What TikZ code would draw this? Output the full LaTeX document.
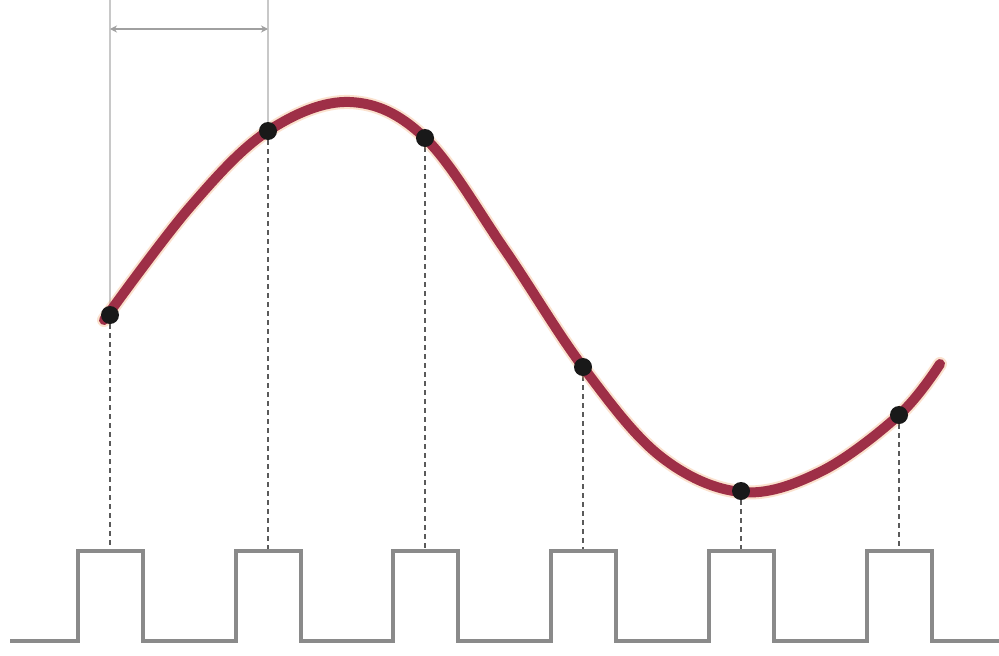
\documentclass[tikz,border=0pt]{standalone}
\usetikzlibrary{arrows.meta}
\definecolor{wave}{HTML}{9E2F47}
\definecolor{glow}{HTML}{F2A060}
\definecolor{pulse}{HTML}{8A8A8A}
\definecolor{guide}{HTML}{C8C8C8}
\definecolor{dash}{HTML}{5A5A5A}
\tikzset{
  sample/.style={circle, fill=black!90, inner sep=0pt, minimum size=18pt},
  dropline/.style={draw=dash, line width=2.2pt, dash pattern=on 5pt off 4pt},
  guideline/.style={draw=guide, line width=2.5pt},
  pulseline/.style={draw=pulse, line width=3.5pt},
  waveline/.style={draw=wave, line width=10pt, line cap=round}
}
\begin{document}
\begin{tikzpicture}[x=1pt,y=-1pt]
\useasboundingbox (0,0) rectangle (999,656);
\fill[white] (0,0) rectangle (999,656);
% sample points
\coordinate (s1) at (110,315);
\coordinate (s2) at (268,131);
\coordinate (s3) at (425,138);
\coordinate (s4) at (583,367);
\coordinate (s5) at (741,491);
\coordinate (s6) at (899,415);
% pulse tops
\foreach \i/\c in {1/110,2/268,3/425,4/583,5/741,6/899}{
  \coordinate (p\i) at (\c,551);
}
% top guides and dimension line
\coordinate (g1) at (110,0);
\coordinate (g2) at (268,0);
\coordinate (m1) at (110,29);
\coordinate (m2) at (268,29);
\draw[guideline] (g1) -- (s1);
\draw[guideline] (g2) -- (s2);
\draw[draw=guide!80!black, line width=2.5pt, {Stealth[length=7pt,width=7pt]}-{Stealth[length=7pt,width=7pt]}] (m1) -- (m2);
% dashed drop lines
\foreach \i in {1,...,6}{
  \draw[dropline] (s\i) -- (p\i);
}
% pulse train
\draw[pulseline] (10,641)
  \foreach \c in {110,268,425,583,741,899}{
    -- (\c-32,641) -- (\c-32,551) -- (\c+33,551) -- (\c+33,641)
  } -- (999,641);
% waveform
\draw[draw=glow, opacity=0.3, line width=14pt, line cap=round]
  plot[smooth, tension=0.6] coordinates {(104,320) (190,207) (268,131) (350,102) (425,138) (505,250) (583,367) (660,456) (741,492) (820,472) (899,415) (940,364)};
\draw[waveline]
  plot[smooth, tension=0.6] coordinates {(104,320) (190,207) (268,131) (350,102) (425,138) (505,250) (583,367) (660,456) (741,492) (820,472) (899,415) (940,364)};
% sample dots
\foreach \i in {1,...,6}{
  \node[sample] (d\i) at (s\i) {};
}
\end{tikzpicture}
\end{document}
